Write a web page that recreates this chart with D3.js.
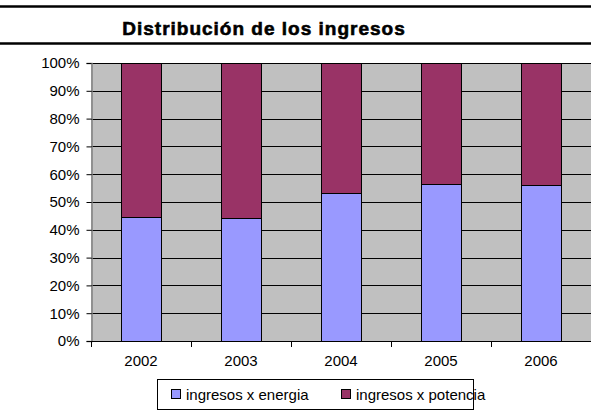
<!DOCTYPE html>
<html>
<head>
<meta charset="utf-8">
<script src="https://cdn.jsdelivr.net/npm/d3@7"></script>
<style>
  body { margin: 0; background: #fff; }
  svg { display: block; font-family: "Liberation Sans", Arial, sans-serif; }
</style>
</head>
<body>
<svg width="591" height="412"></svg>
<script>
// data
var years = ["2002", "2003", "2004", "2005", "2006"];
var energia = [44.5, 44.3, 53.2, 56.3, 56.0];
var potencia = [55.5, 55.7, 46.8, 43.7, 44.0];
var seriesNames = ["ingresos x energia", "ingresos x potencia"];
var colors = ["#9999FF", "#993366"];
var yTicks = [0, 10, 20, 30, 40, 50, 60, 70, 80, 90, 100];

var svg = d3.select("svg");
var margin = {top: 63, right: 0, bottom: 71, left: 91};
var width = +svg.attr("width") - margin.left - margin.right;
var height = +svg.attr("height") - margin.top - margin.bottom;

// title with rules above and below
svg.append("line").attr("x1", 0).attr("x2", 591).attr("y1", 6.5).attr("y2", 6.5)
  .attr("stroke", "#000").attr("stroke-width", 2.5);
svg.append("line").attr("x1", 0).attr("x2", 591).attr("y1", 43.5).attr("y2", 43.5)
  .attr("stroke", "#000").attr("stroke-width", 2.5);
svg.append("text")
  .attr("x", 264).attr("y", 35)
  .attr("text-anchor", "middle")
  .attr("font-weight", "bold")
  .attr("font-size", "19px")
  .attr("letter-spacing", "1px")
  .attr("stroke", "#000")
  .attr("stroke-width", 0.6)
  .text("Distribución de los ingresos");

var g = svg.append("g").attr("transform", "translate(" + margin.left + "," + margin.top + ")");

var x = d3.scaleBand()
    .domain(years)
    .range([0, width])
    .paddingInner(0.6)
    .paddingOuter(0.3);

var y = d3.scaleLinear()
    .domain([0, 100])
    .range([height, 0]);

var rows = years.map(function(d, i) {
  return {year: d, energia: energia[i], potencia: potencia[i]};
});
var stacked = d3.stack().keys(["energia", "potencia"])(rows);

// plot background
g.append("rect")
  .attr("width", width).attr("height", height)
  .attr("fill", "#C0C0C0");

// gridlines
g.append("g")
  .selectAll("line")
  .data(yTicks.slice(1))
  .enter().append("line")
  .attr("x1", 0).attr("x2", width)
  .attr("y1", function(d) { return Math.round(y(d)) + 0.5; })
  .attr("y2", function(d) { return Math.round(y(d)) + 0.5; })
  .attr("stroke", "#000");

// bars
g.selectAll(".serie")
  .data(stacked)
  .enter().append("g")
  .attr("fill", function(d, i) { return colors[i]; })
  .selectAll("rect")
  .data(function(d) { return d; })
  .enter().append("rect")
  .attr("x", function(d) { return Math.round(x(d.data.year)) + 0.5; })
  .attr("y", function(d) { return Math.round(y(d[1])) + 0.5; })
  .attr("width", x.bandwidth())
  .attr("height", function(d) { return Math.round(y(d[0])) - Math.round(y(d[1])); })
  .attr("stroke", "#000")
  .attr("stroke-width", 1);

// y axis
var yAxis = g.append("g")
  .attr("transform", "translate(0.5,0)")
  .call(d3.axisLeft(y).tickValues(yTicks).tickSize(5).tickFormat(function(d) { return d + "%"; }));
yAxis.select(".domain").attr("stroke", "#808080").attr("stroke-width", 1.5);
yAxis.selectAll(".tick line").attr("stroke", "#000");
yAxis.selectAll("text").attr("font-size", "15px").attr("font-family", "Liberation Sans, Arial, sans-serif").attr("fill", "#000").attr("x", -12);

// x axis: ticks between categories
var step = x.step();
var xAxis = g.append("g").attr("transform", "translate(0," + height + ")");
xAxis.append("line").attr("x1", 0).attr("x2", width).attr("y1", 0.5).attr("y2", 0.5).attr("stroke", "#000");
xAxis.selectAll(".tk")
  .data(years)
  .enter().append("line")
  .attr("x1", function(d, i) { return Math.round(i * step) + 0.5; })
  .attr("x2", function(d, i) { return Math.round(i * step) + 0.5; })
  .attr("y1", 0).attr("y2", 6)
  .attr("stroke", "#000");
xAxis.selectAll(".lbl")
  .data(years)
  .enter().append("text")
  .attr("x", function(d) { return x(d) + x.bandwidth() / 2; })
  .attr("y", 25)
  .attr("text-anchor", "middle")
  .attr("font-size", "15px")
  .text(function(d) { return d; });

// legend
var legend = svg.append("g").attr("transform", "translate(157,379)");
legend.append("rect")
  .attr("x", 0.5).attr("y", 0.5).attr("width", 316).attr("height", 30)
  .attr("fill", "#fff").attr("stroke", "#000");
var items = legend.selectAll(".item")
  .data(seriesNames)
  .enter().append("g")
  .attr("transform", function(d, i) { return "translate(" + (14 + i * 170) + ",0)"; });
items.append("rect")
  .attr("x", 0.5).attr("y", 10.5).attr("width", 9).attr("height", 9)
  .attr("fill", function(d, i) { return colors[i]; })
  .attr("stroke", "#000");
items.append("text")
  .attr("x", 15).attr("y", 21)
  .attr("font-size", "15px")
  .text(function(d) { return d; });
</script>
</body>
</html>
